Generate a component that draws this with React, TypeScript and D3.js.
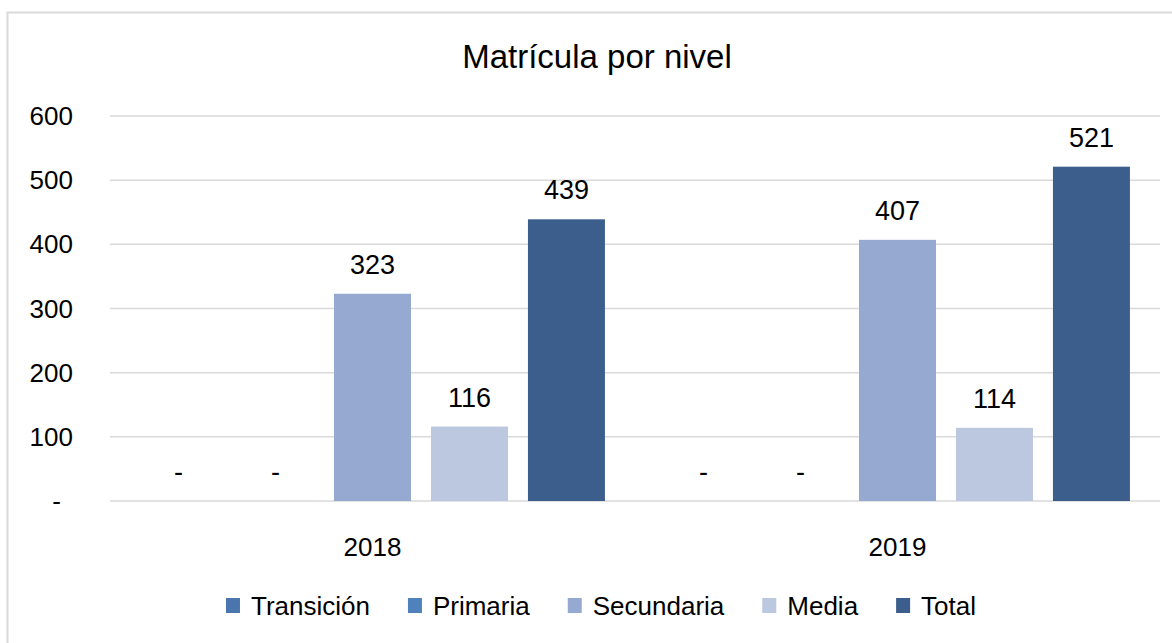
import React, { useEffect, useRef } from "react";
import * as d3 from "d3";

const years = ["2018", "2019"];
const seriesNames = ["Transición", "Primaria", "Secundaria", "Media", "Total"];
const seriesColors = ["#4a76ad", "#4f81bd", "#95a9d1", "#bcc8e0", "#3b5e8c"];
const transicion = [0, 0];
const primaria = [0, 0];
const secundaria = [323, 407];
const media = [116, 114];
const total = [439, 521];
const yTicks = [0, 100, 200, 300, 400, 500, 600];
const title = "Matrícula por nivel";

const W = 1172;
const H = 643;
const FONT = "'Liberation Sans', Arial, sans-serif";

export default function App() {
  const ref = useRef<SVGSVGElement | null>(null);

  useEffect(() => {
    const svg = d3.select(ref.current);
    svg.selectAll("*").remove();

    const seriesValues = [transicion, primaria, secundaria, media, total];
    const left = 110, right = 1160, top = 116, bottom = 501;

    svg.append("rect").attr("x", 0).attr("y", 0).attr("width", W).attr("height", H).attr("fill", "#fff");
    svg.append("rect").attr("x", 7.5).attr("y", 12.5).attr("width", W + 20).attr("height", H + 20)
      .attr("fill", "none").attr("stroke", "#d9d9d9").attr("stroke-width", 2);

    svg.append("text").attr("x", 597).attr("y", 68).attr("text-anchor", "middle")
      .attr("font-family", FONT).attr("font-size", 33).attr("fill", "#000").text(title);

    const y = d3.scaleLinear().domain([0, 600]).range([bottom, top]);
    const x0 = d3.scaleBand<string>().domain(years).range([left, right]).padding(0);
    const x1 = d3.scaleBand<string>().domain(seriesNames).range([0, x0.bandwidth()])
      .paddingInner(0.206).paddingOuter(0.31);

    const grid = svg.append("g");
    yTicks.forEach((t) => {
      grid.append("line").attr("x1", left).attr("x2", right).attr("y1", y(t)).attr("y2", y(t))
        .attr("stroke", "#d9d9d9").attr("stroke-width", 1.5);
      const lbl = t === 0 ? "-" : d3.format("d")(t);
      grid.append("text").attr("x", t === 0 ? 61 : 73).attr("y", y(t)).attr("dy", "0.35em")
        .attr("text-anchor", "end").attr("font-family", FONT).attr("font-size", 26)
        .attr("fill", "#000").text(lbl);
    });

    years.forEach((yr, i) => {
      const g = svg.append("g").attr("transform", `translate(${x0(yr)},0)`);
      seriesNames.forEach((s, j) => {
        const v = seriesValues[j][i];
        const bx = x1(s)!;
        if (v > 0) {
          g.append("rect").attr("x", bx).attr("y", y(v)).attr("width", x1.bandwidth())
            .attr("height", y(0) - y(v)).attr("fill", seriesColors[j]);
        }
        g.append("text").attr("x", bx + x1.bandwidth() / 2).attr("y", y(v) - 20)
          .attr("text-anchor", "middle").attr("font-family", FONT).attr("font-size", 27)
          .attr("fill", "#000").text(v === 0 ? "-" : d3.format("d")(v));
      });
      svg.append("text").attr("x", x0(yr)! + x0.bandwidth() / 2).attr("y", 556)
        .attr("text-anchor", "middle").attr("font-family", FONT).attr("font-size", 26)
        .attr("fill", "#000").text(yr);
    });

    // legend
    const leg = svg.append("g");
    const items: { g: any; w: number }[] = [];
    seriesNames.forEach((s, j) => {
      const g = leg.append("g");
      g.append("rect").attr("x", 0).attr("y", -8).attr("width", 14).attr("height", 15).attr("fill", seriesColors[j]);
      const t = g.append("text").attr("x", 25).attr("y", 0).attr("dy", "0.35em")
        .attr("font-family", FONT).attr("font-size", 26).attr("fill", "#000").text(s);
      const tw = (t.node() as SVGTextElement).getComputedTextLength();
      items.push({ g, w: 25 + tw });
    });
    const gap = 38;
    const totalW = d3.sum(items, (d) => d.w) + gap * (items.length - 1);
    let cx = 601 - totalW / 2;
    items.forEach((it) => {
      it.g.attr("transform", `translate(${cx},606)`);
      cx += it.w + gap;
    });
  }, []);

  return (
    <svg ref={ref} width={W} height={H} style={{ position: "absolute", left: 0, top: 0 }} />
  );
}
